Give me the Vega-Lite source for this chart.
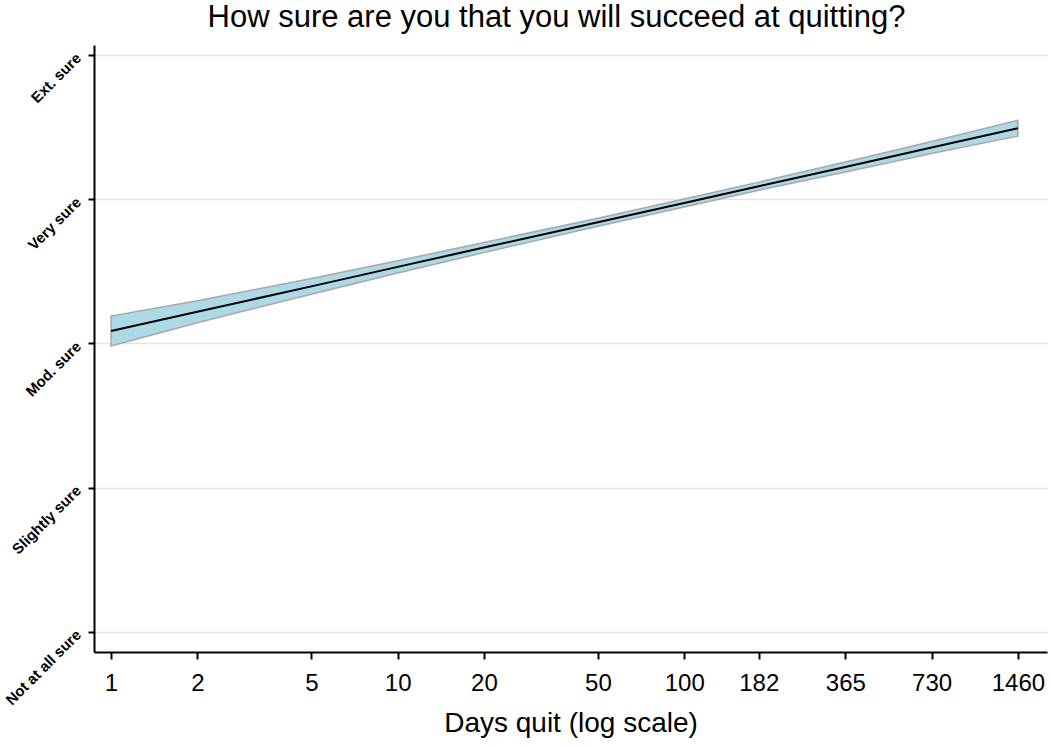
{
  "$schema": "https://vega.github.io/schema/vega-lite/v6.json",
  "width": 953,
  "height": 607,
  "autosize": "none",
  "padding": {"left": 94, "top": 45, "right": 3, "bottom": 95},
  "background": "white",
  "title": {
    "text": "How sure are you that you will succeed at quitting?",
    "font": "Liberation Sans",
    "fontSize": 31,
    "fontWeight": "normal",
    "color": "#000000",
    "anchor": "middle",
    "dx": -14,
    "offset": 11
  },
  "config": {
    "view": {"stroke": null},
    "axis": {
      "labelFont": "Liberation Sans",
      "titleFont": "Liberation Sans",
      "labelColor": "#000000",
      "titleColor": "#000000",
      "domainColor": "#000000",
      "tickColor": "#000000",
      "domainWidth": 2,
      "tickWidth": 2
    }
  },
  "data": {
    "values": [
      {"days": 1, "fit": 3.086, "lo": 2.982, "hi": 3.190},
      {"days": 2, "fit": 3.220, "lo": 3.144, "hi": 3.296},
      {"days": 5, "fit": 3.396, "lo": 3.341, "hi": 3.451},
      {"days": 10, "fit": 3.531, "lo": 3.489, "hi": 3.573},
      {"days": 20, "fit": 3.665, "lo": 3.630, "hi": 3.700},
      {"days": 50, "fit": 3.841, "lo": 3.813, "hi": 3.869},
      {"days": 100, "fit": 3.974, "lo": 3.946, "hi": 4.002},
      {"days": 182, "fit": 4.091, "lo": 4.063, "hi": 4.119},
      {"days": 365, "fit": 4.224, "lo": 4.189, "hi": 4.259},
      {"days": 730, "fit": 4.359, "lo": 4.317, "hi": 4.401},
      {"days": 1460, "fit": 4.493, "lo": 4.438, "hi": 4.548}
    ]
  },
  "encoding": {
    "x": {
      "field": "days",
      "type": "quantitative",
      "scale": {"type": "log", "domain": [0.872, 1845], "nice": false},
      "axis": {
        "title": "Days quit (log scale)",
        "titleFontSize": 28,
        "titleFontWeight": "normal",
        "titlePadding": 14,
        "values": [1, 2, 5, 10, 20, 50, 100, 182, 365, 730, 1460],
        "format": "d",
        "labelFontSize": 24,
        "labelPadding": 12,
        "tickSize": 7,
        "grid": false,
        "labelFlush": false,
        "labelOverlap": false
      }
    }
  },
  "layer": [
    {
      "mark": {"type": "area", "color": "#add8e6", "opacity": 1, "stroke": "#a8a8a8", "strokeWidth": 1.5},
      "encoding": {
        "y": {
          "field": "lo",
          "type": "quantitative",
          "scale": {"domain": [0.86, 5.07], "nice": false, "zero": false},
          "axis": {
            "title": null,
            "values": [1, 2, 3, 4, 5],
            "labelExpr": "datum.value == 1 ? 'Not at all sure' : datum.value == 2 ? 'Slightly sure' : datum.value == 3 ? 'Mod. sure' : datum.value == 4 ? 'Very sure' : 'Ext. sure'",
            "labelAngle": -45,
            "labelAlign": "right",
            "labelBaseline": "middle",
            "labelFontSize": 15,
            "labelFontWeight": "bold",
            "labelPadding": 10,
            "tickSize": 6,
            "grid": true,
            "gridColor": "#e3e3e3",
            "gridWidth": 1.5,
            "labelFlush": false,
            "labelOverlap": false,
            "labelBound": false
          }
        },
        "y2": {"field": "hi"}
      }
    },
    {
      "mark": {"type": "line", "color": "#000000", "strokeWidth": 2},
      "encoding": {
        "y": {"field": "fit", "type": "quantitative"}
      }
    }
  ]
}
